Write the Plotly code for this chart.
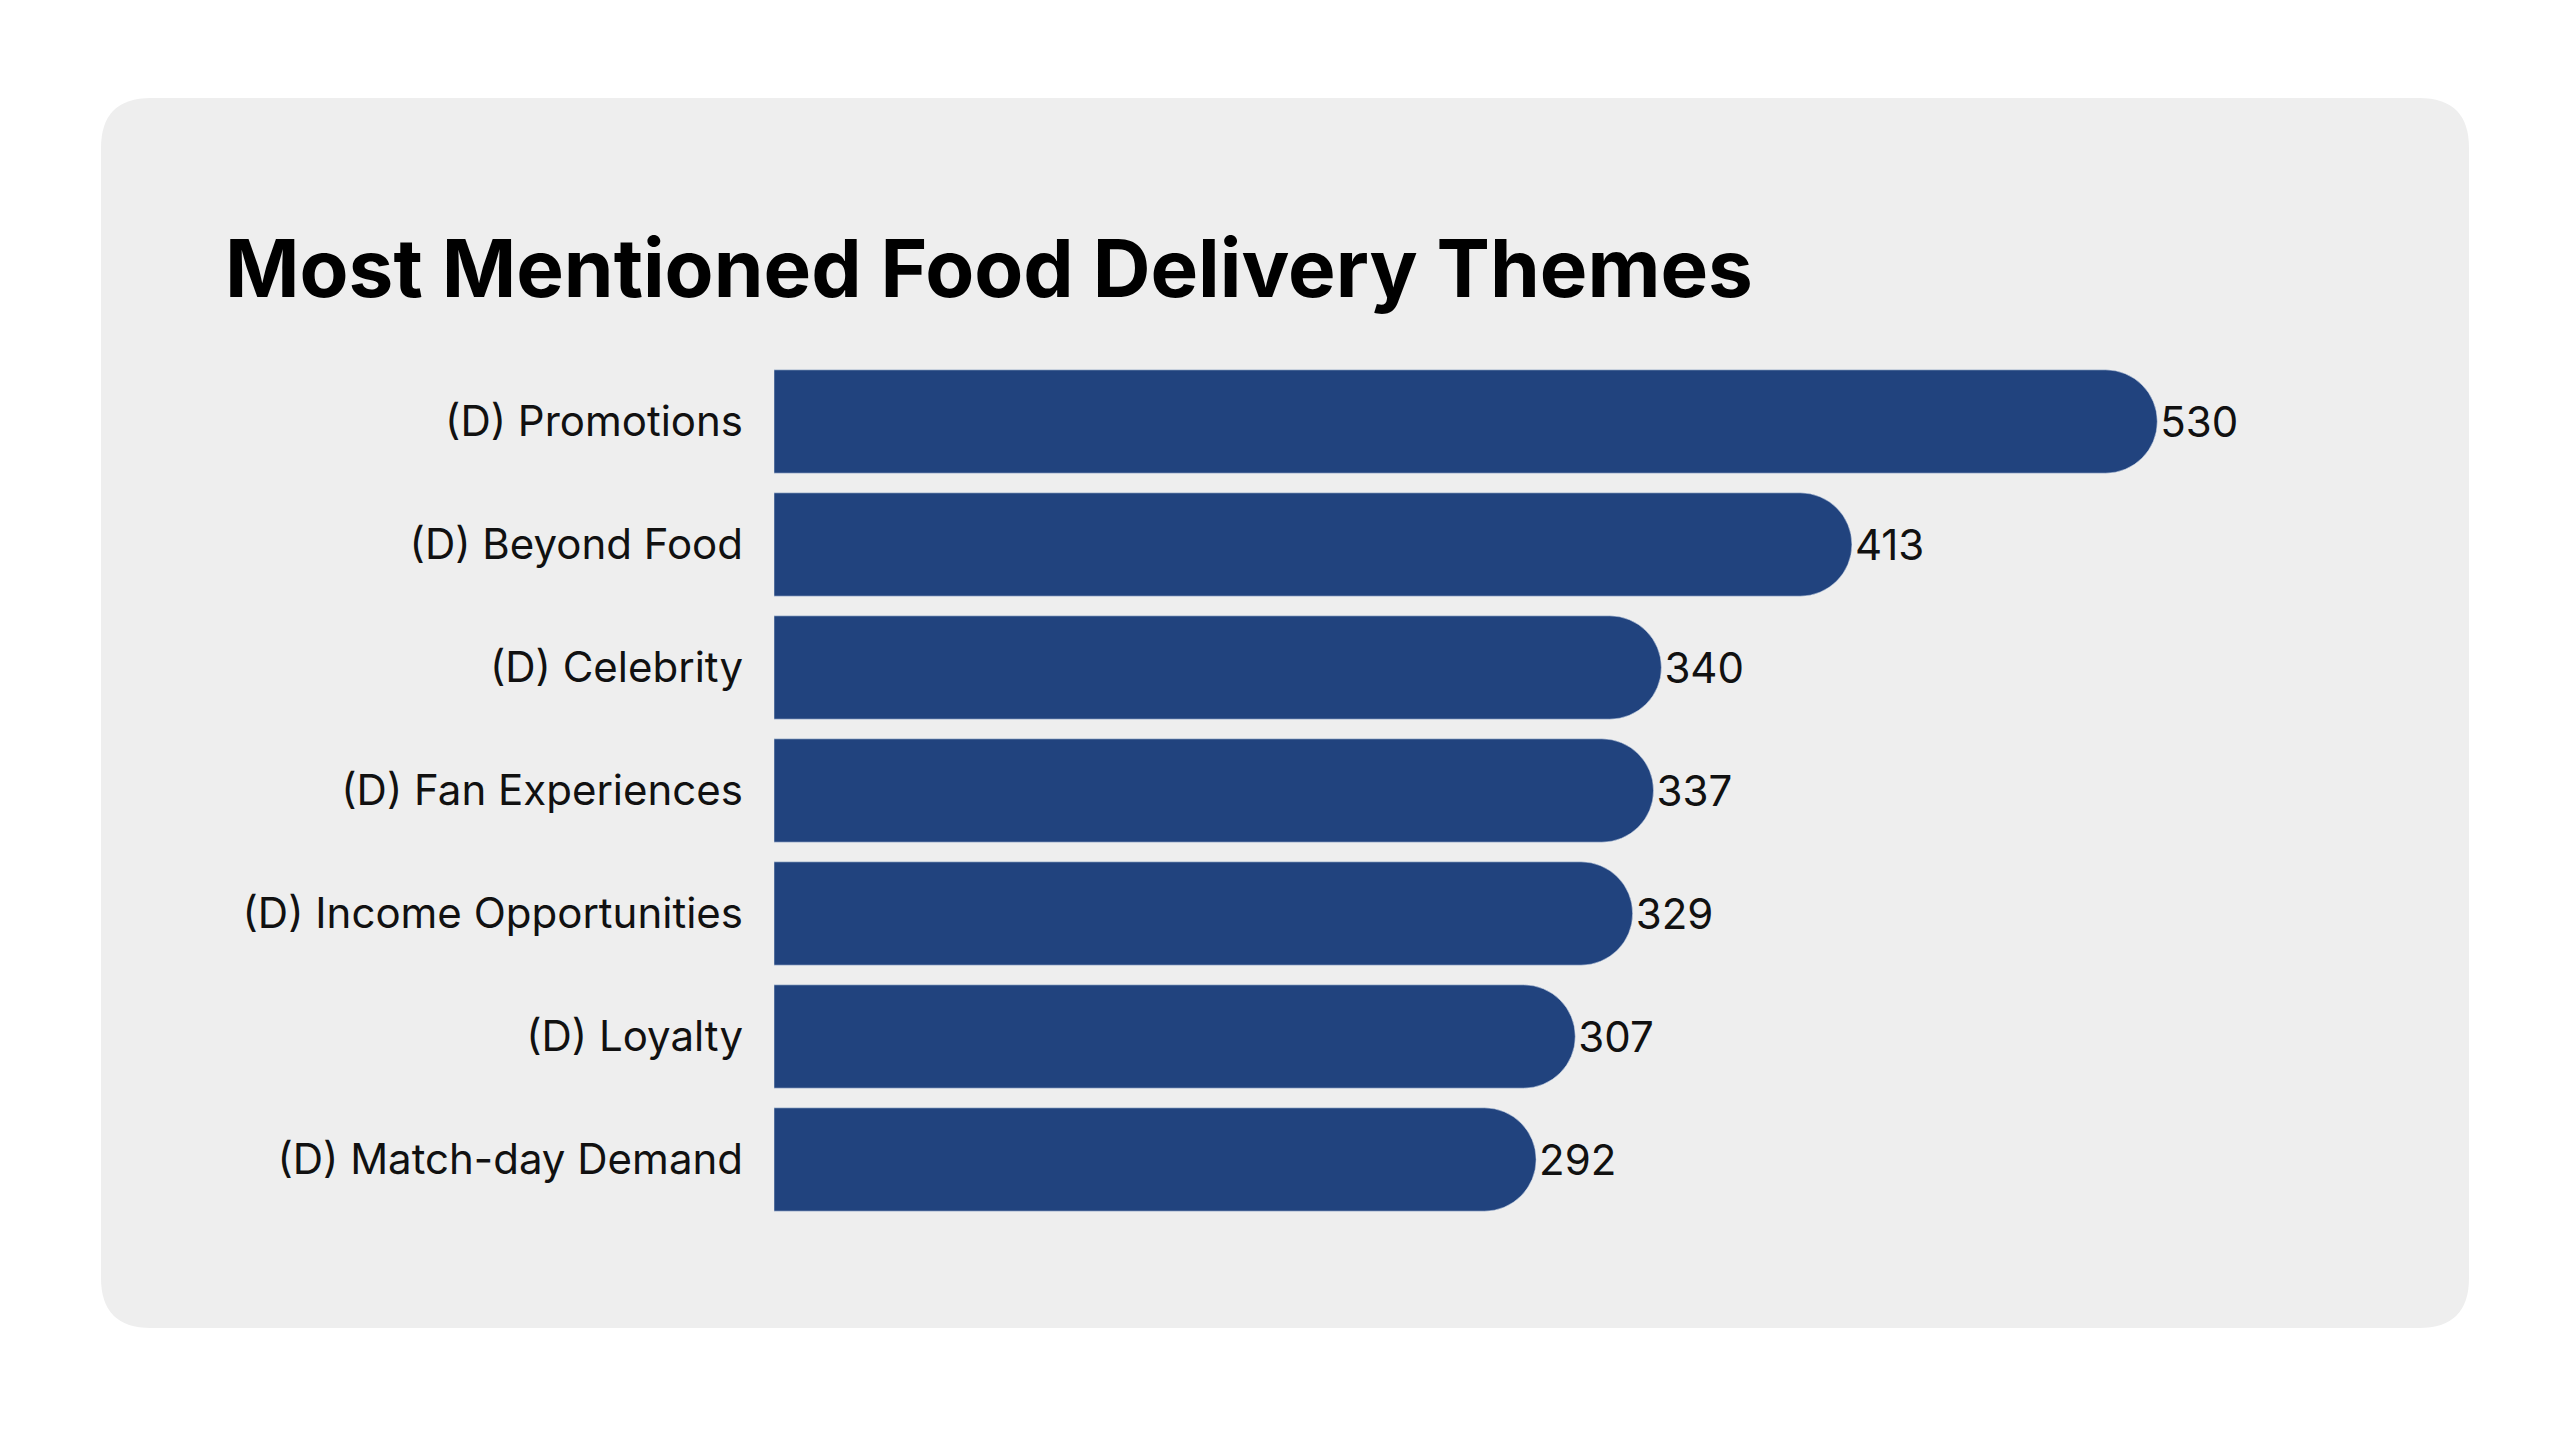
import plotly.graph_objects as go

themes = ["(D) Promotions", "(D) Beyond Food", "(D) Celebrity", "(D) Fan Experiences",
          "(D) Income Opportunities", "(D) Loyalty", "(D) Match-day Demand"]
mentions = [530, 413, 340, 337, 329, 307, 292]

W, H = 2560, 1440
L, R, T, B = 766, 228, 352, 227
pw, ph = W - L - R, H - T - B


def px(x):
    return (x - L) / pw


def py(y):
    return (H - B - y) / ph


# rounded card behind the chart, built in pixels then mapped to paper coords
x0, x1, y0, y1, r = 93, 2461, 90, 1320, 50
card = (f"M {px(x0 + r)},{py(y0)} L {px(x1 - r)},{py(y0)} Q {px(x1)},{py(y0)} {px(x1)},{py(y0 + r)} "
        f"L {px(x1)},{py(y1 - r)} Q {px(x1)},{py(y1)} {px(x1 - r)},{py(y1)} "
        f"L {px(x0 + r)},{py(y1)} Q {px(x0)},{py(y1)} {px(x0)},{py(y1 - r)} "
        f"L {px(x0)},{py(y0 + r)} Q {px(x0)},{py(y0)} {px(x0 + r)},{py(y0)} Z")

fig = go.Figure(go.Bar(
    x=mentions, y=themes, orientation="h",
    marker=dict(color="#21437E", cornerradius="50%"),
    text=mentions, textposition="outside", cliponaxis=False,
    textfont=dict(size=42, color="#111111"),
))

fig.update_layout(
    width=W, height=H,
    margin=dict(l=L, r=R, t=T, b=B),
    paper_bgcolor="white", plot_bgcolor="rgba(0,0,0,0)",
    font=dict(family="Inter", color="#111111"),
    bargap=0.16,
    showlegend=False,
    shapes=[dict(type="path", path=card, xref="paper", yref="paper",
                 fillcolor="#EEEEEE", line=dict(width=0), layer="below")],
    title=dict(text="<b>Most Mentioned Food Delivery Themes</b>", xref="container", yref="container",
               x=217 / W, y=1 - 261 / H, xanchor="left", yanchor="middle",
               font=dict(size=80, color="#000000", family="Inter")),
)
fig.update_xaxes(range=[0, 600], visible=False)
fig.update_yaxes(autorange="reversed", showgrid=False, ticks="", ticklabelstandoff=30,
                 tickfont=dict(size=42, color="#111111"))

fig.write_html("out.html")
